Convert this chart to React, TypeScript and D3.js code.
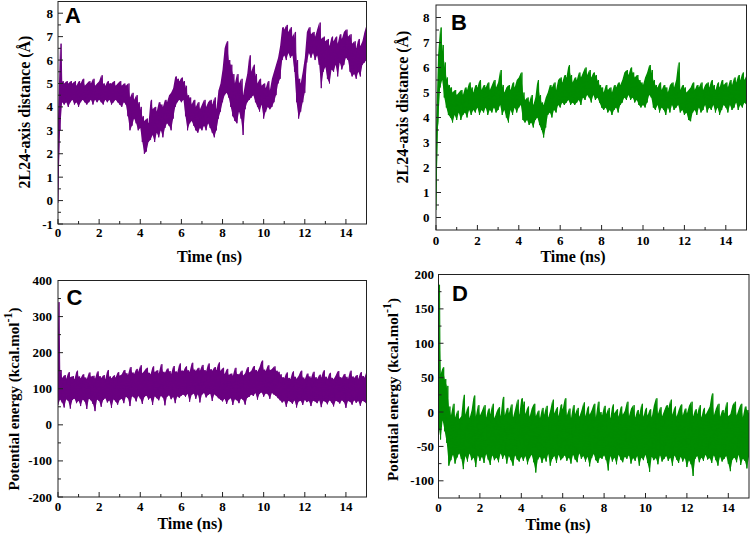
import React from "react";
import * as d3 from "d3";

// every series is sampled every 0.1 ns: for each sample the low and the high
// value of the noisy trace, read off the picture
const TIME_STEP = 0.1;
const X_MAX = 15;
const X_TICKS = [0, 2, 4, 6, 8, 10, 12, 14];

// A - 2L24-axis distance, purple run
const A_LOW = [
  -0.1, 3.0, 4.2, 4.1, 4.2, 4.0, 4.2, 4.3, 4.1, 4.2,
  4.0, 4.2, 4.3, 4.2, 4.1, 4.2, 4.3, 4.1, 4.3, 4.2,
  4.3, 4.2, 4.1, 4.3, 4.2, 4.3, 4.1, 4.2, 4.3, 4.2,
  4.1, 4.0, 4.2, 4.1, 3.6, 3.0, 3.2, 3.5, 3.3, 3.0,
  3.1, 2.5, 2.0, 2.1, 2.5, 2.6, 2.8, 2.5, 2.9, 2.7,
  3.0, 2.7, 3.1, 3.3, 3.2, 3.0, 3.5, 4.0, 4.2, 4.3,
  4.2, 4.3, 3.6, 3.0, 3.3, 3.4, 3.2, 3.0, 2.9, 3.1,
  3.0, 3.2, 3.0, 3.3, 3.1, 2.9, 2.7, 3.0, 3.5, 3.8,
  4.2, 4.5, 4.6, 4.4, 4.0, 3.6, 3.4, 3.3, 3.8, 3.5,
  2.8, 3.9, 4.2, 4.3, 4.4, 4.5, 4.2, 4.0, 3.8, 4.1,
  3.5, 3.8, 4.0, 3.9, 4.0, 4.2, 4.5, 5.0, 5.2, 6.0,
  6.2, 6.0, 6.3, 6.1, 6.2, 5.5, 4.2, 3.5, 3.8, 4.2,
  4.6, 5.9, 6.3, 6.1, 6.3, 6.0, 6.2, 5.8, 4.8, 5.5,
  5.7, 5.2, 5.0, 5.6, 5.5, 5.8, 5.3, 5.9, 5.6, 5.8,
  6.1, 6.0, 5.5, 5.3, 5.4, 5.2, 5.5, 5.3, 5.8, 5.9,
  6.0,
];
const A_HIGH = [
  3.5, 6.7, 5.1, 5.0, 5.1, 5.0, 5.1, 5.0, 5.1, 4.9,
  5.1, 5.0, 5.2, 4.9, 5.0, 5.1, 5.0, 5.2, 4.9, 5.0,
  5.1, 5.35, 5.0, 4.9, 5.1, 5.0, 5.0, 5.1, 4.9, 5.0,
  5.1, 4.9, 5.0, 4.9, 5.0, 4.4, 4.6, 4.3, 4.5, 4.2,
  4.0, 3.6, 3.4, 3.5, 3.3, 4.3, 3.9, 4.0, 3.8, 4.2,
  4.1, 4.0, 4.3, 4.2, 4.5, 4.6, 4.8, 5.3, 5.2, 5.1,
  5.25, 5.1, 4.9, 4.5, 4.4, 4.1, 4.3, 4.0, 4.2, 3.9,
  4.1, 4.3, 4.0, 4.2, 4.3, 4.1, 4.4, 3.9, 4.7, 5.0,
  5.6, 6.5, 6.8, 6.0, 5.8, 5.4, 5.0, 5.4, 5.0, 5.2,
  4.5, 5.0, 5.4, 6.2, 5.5, 5.8, 5.4, 5.0, 5.2, 4.9,
  5.0, 4.8, 5.1, 4.7, 5.2, 5.5, 5.8, 6.1, 6.6, 7.4,
  7.3, 7.5, 7.2, 7.4, 7.0, 7.2, 6.0, 5.2, 5.0, 5.5,
  6.1, 7.2, 7.4, 7.1, 7.2, 7.0, 7.3, 7.6, 6.9, 7.0,
  6.8, 6.9, 6.6, 7.0, 6.8, 7.0, 6.7, 7.1, 6.9, 7.2,
  7.3, 7.0, 7.1, 6.7, 6.8, 6.5, 6.9, 6.6, 6.8, 7.2,
  7.5,
];

// B - 2L24-axis distance, green run
const B_LOW = [
  0.3, 3.8, 5.2, 5.5, 4.8, 4.4, 4.1, 4.0, 3.8, 4.1,
  3.9, 4.2, 3.9, 4.1, 4.2, 4.0, 4.3, 4.1, 4.3, 4.2,
  4.4, 4.1, 4.3, 4.2, 4.4, 4.1, 4.3, 4.2, 4.4, 4.2,
  4.3, 4.5, 4.1, 4.3, 4.0, 3.8, 4.3, 4.1, 4.4, 4.2,
  4.4, 4.5, 3.9, 3.8, 3.9, 3.7, 3.8, 3.6, 3.9, 4.0,
  3.7, 3.5, 3.2, 3.6, 4.1, 4.2, 4.0, 4.3, 4.2, 4.5,
  4.4, 4.6, 4.5, 4.6, 4.7, 4.5, 4.6, 4.5, 4.6, 4.7,
  4.5, 4.8, 4.7, 4.9, 4.8, 4.6, 4.9, 4.7, 4.8, 4.6,
  4.4, 4.3, 4.4, 4.2, 4.3, 4.1, 4.3, 4.4, 4.2, 4.5,
  4.6, 4.8, 4.7, 4.9, 4.7, 4.8, 4.6, 4.7, 4.5, 4.4,
  4.5, 4.4, 4.6, 4.9, 4.8, 4.4, 4.3, 4.5, 4.2, 4.4,
  4.3, 4.1, 4.4, 4.2, 4.5, 4.3, 4.4, 4.5, 4.2, 4.3,
  4.1, 4.2, 3.9, 3.85, 4.2, 4.3, 4.1, 4.4, 4.2, 4.3,
  4.5, 4.2, 4.4, 4.3, 4.5, 4.2, 4.4, 4.1, 4.3, 4.5,
  4.4, 4.2, 4.5, 4.3, 4.4, 4.6, 4.3, 4.5, 4.4, 4.6,
  4.5,
];
const B_HIGH = [
  3.5, 6.5, 7.6, 6.9, 6.2, 5.6, 5.3, 5.2, 5.0, 5.1,
  4.9, 5.0, 5.1, 4.9, 5.2, 5.1, 5.4, 5.2, 5.0, 5.3,
  5.2, 5.5, 5.1, 5.3, 5.2, 5.4, 5.1, 5.3, 5.5, 5.2,
  5.4, 5.9, 5.3, 5.0, 5.2, 5.3, 5.1, 5.4, 5.2, 5.5,
  5.6, 5.8, 5.0, 4.7, 4.8, 4.6, 4.9, 4.5, 4.8, 5.5,
  4.9, 4.6, 4.5, 4.8, 5.0, 5.3, 5.2, 5.4, 5.1, 5.5,
  5.6, 5.4, 5.7, 5.6, 6.1, 5.7, 5.4, 5.6, 5.5, 5.8,
  5.6, 5.8, 6.0, 5.7, 5.9, 5.6, 5.8, 5.7, 5.5, 5.3,
  5.2, 5.0, 5.3, 5.1, 5.2, 5.0, 5.3, 5.2, 5.4, 5.3,
  5.5, 5.8, 5.9, 5.7, 6.0, 5.8, 5.6, 5.7, 5.5, 5.4,
  5.3, 5.6, 5.8, 6.1, 5.9, 5.5, 5.3, 5.2, 5.4, 5.1,
  5.3, 5.2, 5.0, 5.3, 5.4, 5.2, 5.5, 6.2, 5.1, 5.3,
  5.2, 5.0, 5.1, 5.2, 5.4, 5.1, 5.3, 5.2, 5.4, 5.1,
  5.3, 5.4, 5.2, 5.5, 5.3, 5.1, 5.4, 5.2, 5.5, 5.3,
  5.4, 5.2, 5.5, 5.3, 5.6, 5.4, 5.7, 5.5, 5.8, 5.5,
  5.7,
];

// C - potential energy, purple run
const C_LOW = [
  55, 70, 62, 48, 71, 66, 45, 69, 73, 60,
  67, 52, 70, 65, 44, 72, 68, 58, 38, 70,
  66, 50, 69, 74, 62, 68, 47, 71, 65, 56,
  69, 72, 60, 78, 74, 52, 79, 76, 65, 80,
  73, 58, 77, 81, 70, 75, 55, 79, 74, 68,
  80, 76, 54, 78, 82, 71, 77, 60, 79, 75,
  81, 84, 78, 86, 64, 83, 87, 72, 85, 62,
  84, 88, 76, 83, 86, 66, 85, 80, 74, 70,
  65, 72, 58, 70, 74, 55, 71, 68, 60, 73,
  69, 56, 75, 78, 84, 80, 88, 70, 86, 90,
  78, 87, 85, 72, 88, 84, 80, 74, 68, 62,
  66, 50, 67, 64, 58, 68, 48, 65, 67, 55,
  69, 63, 66, 52, 67, 65, 60, 68, 49, 66,
  64, 57, 68, 62, 51, 67, 65, 59, 68, 63,
  47, 66, 64, 56, 68, 61, 66, 53, 67, 64,
  58,
];
const C_HIGH = [
  340, 152, 130, 138, 128, 146, 132, 135, 126, 150,
  134, 129, 140, 131, 127, 145, 133, 136, 128, 148,
  135, 130, 138, 127, 152, 134, 129, 137, 131, 146,
  136, 140, 152, 143, 138, 160, 145, 141, 155, 147,
  165, 143, 150, 158, 144, 140, 162, 146, 151, 142,
  168, 147, 144, 156, 149, 141, 163, 148, 145, 170,
  150, 149, 162, 151, 147, 172, 153, 149, 158, 150,
  166, 152, 148, 170, 154, 150, 160, 151, 173, 149,
  158, 140, 155, 138, 142, 136, 158, 141, 139, 150,
  137, 143, 160, 145, 150, 163, 152, 148, 160, 178,
  153, 149, 165, 151, 155, 162, 150, 147, 140, 132,
  129, 145, 130, 127, 148, 133, 128, 136, 150, 131,
  126, 142, 134, 129, 147, 132, 127, 139, 131, 151,
  133, 128, 144, 130, 126, 137, 149, 132, 129, 141,
  133, 127, 150, 134, 130, 138, 128, 146, 135, 131,
  148,
];

// D - potential energy, green run
const D_LOW = [
  -20, -40, -12, -28, -45, -78, -70, -62, -75, -66,
  -60, -68, -83, -64, -72, -60, -70, -66, -80, -63,
  -71, -65, -74, -61, -69, -77, -63, -70, -66, -73,
  -60, -68, -62, -75, -64, -70, -78, -63, -69, -72,
  -65, -71, -64, -76, -67, -62, -73, -88, -69, -65,
  -74, -66, -72, -61, -78, -68, -64, -74, -62, -70,
  -67, -63, -71, -66, -75, -62, -69, -73, -60, -68,
  -64, -72, -65, -79, -67, -61, -70, -74, -66, -68,
  -63, -70, -85, -64, -72, -66, -76, -62, -69, -73,
  -65, -68, -63, -75, -67, -71, -64, -78, -66, -70,
  -62, -74, -87, -65, -70, -67, -76, -63, -72, -68,
  -64, -71, -66, -78, -63, -69, -74, -65, -72, -67,
  -80, -70, -76, -93, -68, -64, -73, -66, -71, -62,
  -69, -67, -74, -63, -70, -78, -65, -72, -68, -64,
  -75, -86, -69, -66, -73, -62, -77, -68, -71, -82,
  -65,
];
const D_HIGH = [
  185, 55, 65, 48, 38, 8, -5, 12, -8, 2,
  -10, -6, 25, -4, 8, -9, 3, 24, -7, 10,
  -5, 2, 10, -8, 5, -3, 12, -9, 0, 7,
  -6, 22, -5, 6, -2, 11, -8, 4, 18, -4,
  20, 15, -3, 8, -7, 5, 12, -6, 2, -9,
  6, -4, 9, -8, 3, 18, -2, 7, -6, 11,
  4, 20, -5, 5, -9, 10, -3, 6, -7, 2,
  14, -6, 8, -4, 3, 12, -8, 15, 0, -5,
  9, -3, 6, -9, 11, -2, 4, -7, 8, -4,
  2, 15, -6, 5, 10, -8, 3, -4, 12, -7,
  6, -5, 4, -8, 9, 20, -3, 7, -6, 2,
  10, 6, 18, -4, 8, -7, 3, 11, -5, 5,
  -2, 9, 15, -6, 4, -3, 10, -8, 6, -4,
  2, 8, 27, -5, 5, 12, -7, 3, -2, 14,
  -6, -3, 10, 15, -5, 4, 12, -8, 8, 3,
  -2,
];

const A_Y_TICKS = [-1, 0, 1, 2, 3, 4, 5, 6, 7, 8];
const B_Y_TICKS = [0, 1, 2, 3, 4, 5, 6, 7, 8];
const C_Y_TICKS = [-200, -100, 0, 100, 200, 300, 400];
const D_Y_TICKS = [-100, -50, 0, 50, 100, 150, 200];

const PURPLE = "#6a0080";
const GREEN = "#008c00";
const SERIF = "'Liberation Serif', 'Times New Roman', serif";
const SANS = "'Liberation Sans', Arial, sans-serif";

type Box = { left: number; right: number; top: number; bottom: number };

type PanelProps = {
  id: string;
  low: number[];
  high: number[];
  color: string;
  yDomain: [number, number];
  yTicks: number[];
  yMinorStep: number;
  box: Box;
  yTitle: "distance" | "energy";
  yTitlePos: [number, number];
  yTitleSize: number;
  yLabelGap: number;
  xLabelY: number;
  timePos: [number, number];
  letterPos: [number, number];
};

const Panel = (p: PanelProps) => {
  const { box } = p;
  const x = d3.scaleLinear().domain([0, X_MAX]).range([box.left, box.right]);
  const y = d3.scaleLinear().domain(p.yDomain).range([box.bottom, box.top]);

  const n = Math.min(p.low.length, p.high.length);
  const samples = d3.range(n).map((i) => ({
    t: i * TIME_STEP,
    lo: p.low[i],
    hi: p.high[i],
  }));

  // solid band between the low and high of each sample
  const band = d3
    .area<{ t: number; lo: number; hi: number }>()
    .x((d) => x(d.t))
    .y0((d) => y(d.lo))
    .y1((d) => y(d.hi));

  // zigzag through low / high gives the spiky noise on top of the band
  const pts: [number, number][] = [];
  samples.forEach((s) => {
    pts.push([s.t, s.lo]);
    pts.push([s.t + TIME_STEP / 2, s.hi]);
  });
  const line = d3
    .line<[number, number]>()
    .x((d) => x(d[0]))
    .y((d) => y(d[1]));

  const xMinor = d3.range(1, X_MAX, 2);
  const yMinor = d3
    .range(p.yDomain[0], p.yDomain[1] + 1e-9, p.yMinorStep)
    .filter((v) => !p.yTicks.some((t) => Math.abs(t - v) < 1e-9))
    .filter((v) => v > p.yDomain[0] + 1e-9 && v < p.yDomain[1] - 1e-9);

  const clipId = `clip-${p.id}`;

  return (
    <g>
      <defs>
        <clipPath id={clipId}>
          <rect
            x={box.left}
            y={box.top}
            width={box.right - box.left}
            height={box.bottom - box.top}
          />
        </clipPath>
      </defs>

      <g clipPath={`url(#${clipId})`}>
        <path d={band(samples) || ""} fill={p.color} stroke="none" />
        <path
          d={line(pts) || ""}
          fill="none"
          stroke={p.color}
          strokeWidth={1}
        />
      </g>

      {/* frame */}
      <rect
        x={box.left}
        y={box.top}
        width={box.right - box.left}
        height={box.bottom - box.top}
        fill="none"
        stroke="#222"
        strokeWidth={1}
      />

      {/* x ticks, pointing inward */}
      {X_TICKS.map((t) => (
        <g key={`xt${t}`}>
          <line
            x1={x(t)}
            x2={x(t)}
            y1={box.bottom}
            y2={box.bottom - 5}
            stroke="#222"
          />
          <text
            x={x(t)}
            y={p.xLabelY}
            textAnchor="middle"
            fontFamily={SERIF}
            fontWeight="bold"
            fontSize={13}
          >
            {t}
          </text>
        </g>
      ))}
      {xMinor.map((t) => (
        <line
          key={`xm${t}`}
          x1={x(t)}
          x2={x(t)}
          y1={box.bottom}
          y2={box.bottom - 3}
          stroke="#222"
        />
      ))}

      {/* y ticks */}
      {p.yTicks.map((v) => (
        <g key={`yt${v}`}>
          <line
            x1={box.left}
            x2={box.left + 5}
            y1={y(v)}
            y2={y(v)}
            stroke="#222"
          />
          <text
            x={box.left - p.yLabelGap}
            y={y(v)}
            dy="0.35em"
            textAnchor="end"
            fontFamily={SERIF}
            fontWeight="bold"
            fontSize={13}
          >
            {v}
          </text>
        </g>
      ))}
      {yMinor.map((v) => (
        <line
          key={`ym${v}`}
          x1={box.left}
          x2={box.left + 3}
          y1={y(v)}
          y2={y(v)}
          stroke="#222"
        />
      ))}

      <text
        x={p.timePos[0]}
        y={p.timePos[1]}
        textAnchor="middle"
        fontFamily={SERIF}
        fontWeight="bold"
        fontSize={16}
      >
        Time (ns)
      </text>

      <text
        transform={`translate(${p.yTitlePos[0]},${p.yTitlePos[1]}) rotate(-90)`}
        textAnchor="middle"
        fontFamily={SERIF}
        fontWeight="bold"
        fontSize={p.yTitleSize}
      >
        {p.yTitle === "distance" ? (
          "2L24-axis distance (Å)"
        ) : (
          <>
            Potential energy (kcal.mol
            <tspan baselineShift="super" fontSize={p.yTitleSize * 0.8}>
              -1
            </tspan>
            )
          </>
        )}
      </text>

      <text
        x={p.letterPos[0]}
        y={p.letterPos[1]}
        fontFamily={SANS}
        fontWeight="bold"
        fontSize={22}
      >
        {p.id}
      </text>
    </g>
  );
};

export default function App() {
  return (
    <svg
      width={750}
      height={535}
      style={{ position: "absolute", left: 0, top: 0, background: "#fff" }}
    >
      <Panel
        id="A"
        low={A_LOW}
        high={A_HIGH}
        color={PURPLE}
        yDomain={[-1, 8.5]}
        yTicks={A_Y_TICKS}
        yMinorStep={0.5}
        box={{ left: 58, right: 366.5, top: 1.5, bottom: 224 }}
        yTitle="distance"
        yTitlePos={[30, 112]}
        yTitleSize={16}
        yLabelGap={5}
        xLabelY={236.5}
        timePos={[209.5, 261.5]}
        letterPos={[65, 22.5]}
      />
      <Panel
        id="B"
        low={B_LOW}
        high={B_HIGH}
        color={GREEN}
        yDomain={[-0.5, 8.5]}
        yTicks={B_Y_TICKS}
        yMinorStep={0.5}
        box={{ left: 436, right: 746.5, top: 5, bottom: 230 }}
        yTitle="distance"
        yTitlePos={[408, 107]}
        yTitleSize={16}
        yLabelGap={6.5}
        xLabelY={245}
        timePos={[573, 261.5]}
        letterPos={[451, 29.5]}
      />
      <Panel
        id="C"
        low={C_LOW}
        high={C_HIGH}
        color={PURPLE}
        yDomain={[-200, 400]}
        yTicks={C_Y_TICKS}
        yMinorStep={50}
        box={{ left: 58, right: 366.5, top: 280.5, bottom: 497 }}
        yTitle="energy"
        yTitlePos={[19, 399]}
        yTitleSize={15}
        yLabelGap={6}
        xLabelY={510.5}
        timePos={[190, 528.5]}
        letterPos={[66.5, 305]}
      />
      <Panel
        id="D"
        low={D_LOW}
        high={D_HIGH}
        color={GREEN}
        yDomain={[-125, 200]}
        yTicks={D_Y_TICKS}
        yMinorStep={25}
        box={{ left: 438.5, right: 749, top: 274.5, bottom: 498 }}
        yTitle="energy"
        yTitlePos={[398, 389.5]}
        yTitleSize={15}
        yLabelGap={4.5}
        xLabelY={512}
        timePos={[558, 530]}
        letterPos={[452, 301]}
      />
    </svg>
  );
}
